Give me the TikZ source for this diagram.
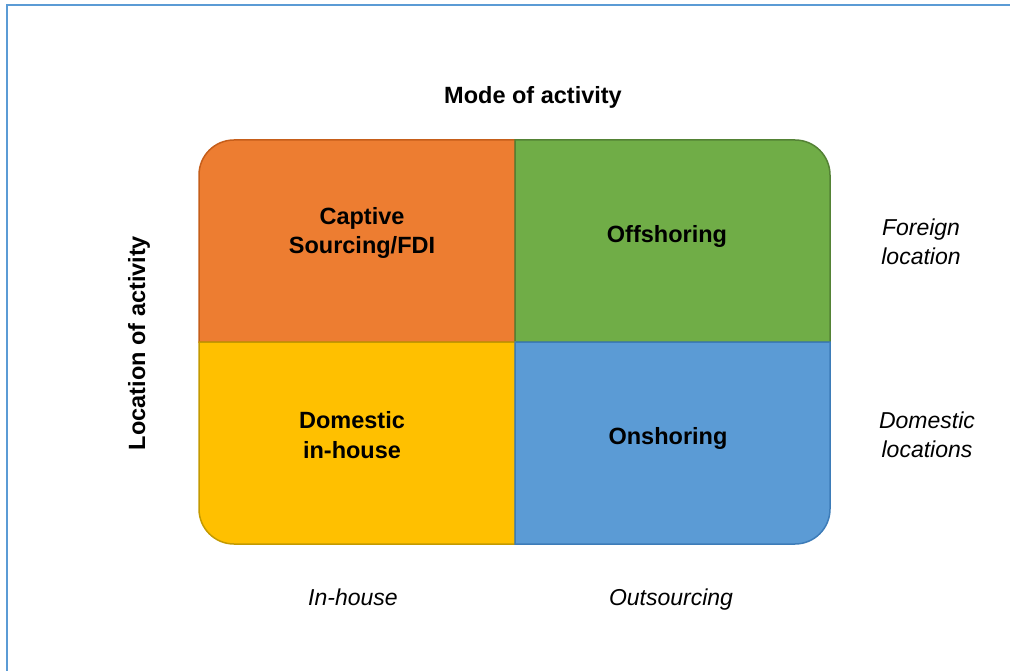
\documentclass[tikz,border=0pt]{standalone}
\usepackage{fontspec}
\setmainfont{Liberation Sans}
\definecolor{orfill}{HTML}{ED7D31}\definecolor{ordraw}{HTML}{C65E1A}
\definecolor{grfill}{HTML}{70AD47}\definecolor{grdraw}{HTML}{548235}
\definecolor{yefill}{HTML}{FFC000}\definecolor{yedraw}{HTML}{C49A00}
\definecolor{blfill}{HTML}{5B9BD5}\definecolor{bldraw}{HTML}{3D7CB8}
\definecolor{frame}{HTML}{5B9BD5}
\begin{document}
\begin{tikzpicture}[x=1pt,y=1pt,
  cell/.style={line width=1.5pt},
  lbl/.style={font=\fontsize{23.5}{29.5}\selectfont\bfseries, align=center, text=black},
  axl/.style={font=\fontsize{23}{29.5}\selectfont\itshape, align=center, text=black}]
\useasboundingbox (0,0) rectangle (1010,-671);
\draw[frame, line width=2pt] (1015,-5) -- (7,-5) -- (7,-676);
% cells
\filldraw[cell, fill=orfill, draw=ordraw] (515,-342) -- (199,-342) -- (199,-175) arc[start angle=180, end angle=90, radius=35] -- (515,-140) -- cycle;
\filldraw[cell, fill=grfill, draw=grdraw] (515,-342) -- (515,-140) -- (795,-140) arc[start angle=90, end angle=0, radius=35] -- (830,-342) -- cycle;
\filldraw[cell, fill=yefill, draw=yedraw] (515,-342) -- (199,-342) -- (199,-509) arc[start angle=180, end angle=270, radius=35] -- (515,-544) -- cycle;
\filldraw[cell, fill=blfill, draw=bldraw] (515,-342) -- (830,-342) -- (830,-509) arc[start angle=0, end angle=-90, radius=35] -- (515,-544) -- cycle;
% labels
\node[lbl] (mode) at (533,-97) {Mode of activity};
\node[lbl] (captive) at (362,-233) {Captive\\Sourcing/FDI};
\node[lbl] (off) at (667,-236) {Offshoring};
\node[lbl] (dom) at (352,-435) {Domestic\\in-house};
\node[lbl] (on) at (668,-438) {Onshoring};
\node[lbl, rotate=90] (loc) at (139,-343) {Location of activity};
\node[axl] (foreign) at (921,-242) {Foreign\\location};
\node[axl] (domloc) at (927,-435) {Domestic\\locations};
\node[axl] (inh) at (353,-597) {In-house};
\node[axl] (outs) at (671,-600) {Outsourcing};
\end{tikzpicture}
\end{document}
